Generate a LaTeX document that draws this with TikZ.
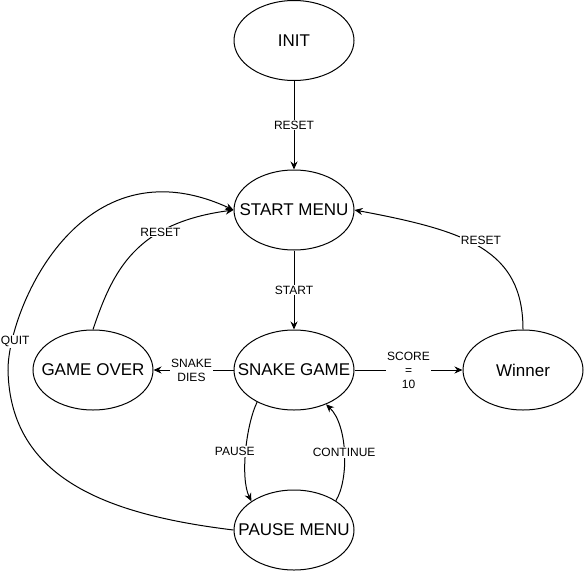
\documentclass[tikz,border=0pt]{standalone}
\usepackage{fontspec}
\setmainfont{Liberation Sans}
\usetikzlibrary{arrows.meta,shapes.geometric}
\newcommand{\zw}[1]{\makebox[0pt]{#1}}
\begin{document}
\begin{tikzpicture}[x=1pt,y=-1pt,
  state/.style={ellipse, draw, line width=1pt, minimum width=120pt, minimum height=80pt, inner sep=0pt, font=\fontsize{17}{19}\selectfont},
  lbl/.style={fill=white, inner sep=1pt, font=\fontsize{12}{14}\selectfont, align=center},
  edge/.style={line width=1pt, -{Stealth[length=8pt,width=7pt]}}
]
\useasboundingbox (0,0) rectangle (585,572);
\node[state] (init) at (294,40.5) {\zw{INIT}};
\node[state] (sm) at (294,210) {\zw{START MENU}};
\node[state] (sg) at (294,370) {\zw{SNAKE GAME}};
\node[state] (go) at (93,370) {\zw{GAME OVER}};
\node[state] (win) at (523,370) {\zw{Winner}};
\node[state] (pm) at (294,530) {\zw{PAUSE MENU}};

\draw[edge] (init) -- node[lbl] {RESET} (sm);
\draw[edge] (sm) -- node[lbl] {START} (sg);
\draw[edge] (sg) -- node[lbl,xshift=-2pt] {SNAKE\\DIES} (go);
\draw[edge] (sg) -- node[lbl] {SCORE\\=\\10} (win);

\draw[edge] (go.north) .. controls (113,270) and (136,223) .. node[lbl,pos=0.68] {RESET} (sm.west);
\draw[edge] (win.north) .. controls (523,250) and (467,231) .. node[lbl,pos=0.5,yshift=7pt] {RESET} (sm.east);
\draw[edge] (pm.west) .. controls (110,515) and (10,480) .. (8,370) .. controls (8,310) and (80,139) .. node[lbl,pos=0.13,xshift=3.5pt] {QUIT} (sm.west);
\draw[edge] (sg.221) .. controls (246,425) and (240,478) .. node[lbl,pos=0.5,xshift=-11pt] {PAUSE} (pm.146);
\draw[edge] (pm.35) .. controls (349,480) and (348,425) .. node[lbl,pos=0.5] {CONTINUE} (sg.313);
\end{tikzpicture}
\end{document}
